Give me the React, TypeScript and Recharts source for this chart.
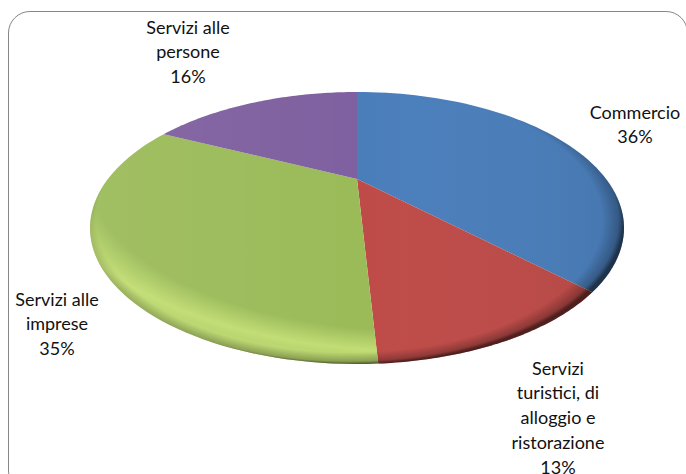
import React from 'react';
import { PieChart, Pie } from 'recharts';

const categories = ['Commercio', 'Servizi turistici, di alloggio e ristorazione', 'Servizi alle imprese', 'Servizi alle persone'];
const shares = [36, 13, 35, 16];
const labelLines = [['Commercio'], ['Servizi', 'turistici, di', 'alloggio e', 'ristorazione'], ['Servizi alle', 'imprese'], ['Servizi alle', 'persone']];
const colors = ['#4A7EBB', '#BE4B48', '#9BBB59', '#7F60A0'];
const data = categories.map((name, i) => ({ name, value: shares[i], fill: colors[i] }));

const W = 686, H = 474, CX = 357, CY = 228, RX = 267, RY = 136;
const TILT = 0.36, WARP = 7.5;
const labelCentres = [[635, 114], [558, 370], [57, 301], [188, 29]];
const LINE = 24.8;

function rim(deg: number): [number, number] {
  const t = ((deg + WARP * Math.sin((deg * Math.PI) / 180)) * Math.PI) / 180;
  const x = Math.sin(t), y = Math.cos(t);
  const w = 1 + TILT * y;
  const sx = (x * Math.sqrt(1 - TILT * TILT)) / w;
  const sy = (y + TILT) / w;
  return [sx, sy];
}

function Slice(props: any) {
  const { cx, cy, outerRadius, startAngle, endAngle, fill, index } = props;
  const ry = (outerRadius * RY) / RX;
  const a = 90 - startAngle, b = 90 - endAngle;
  const n = 64;
  let d = `M${cx},${cy - TILT * ry}`;
  for (let i = 0; i <= n; i++) {
    const [sx, sy] = rim(a + ((b - a) * i) / n);
    d += `L${(cx + sx * outerRadius).toFixed(2)},${(cy - sy * ry).toFixed(2)}`;
  }
  d += 'Z';
  return (
    <g>
      <path d={d} fill={fill} />
      <path d={d} fill="url(#sheen)" />
      {index === 2 && <path d={d} fill="url(#glow)" />}
      <path d={d} fill="url(#edge)" />
    </g>
  );
}

function SliceLabel(props: any) {
  const i = props.index;
  const [x, y] = labelCentres[i];
  const rows = [...labelLines[i], `${shares[i]}%`];
  return (
    <text x={x} y={y} textAnchor="middle" fontFamily="Lato, sans-serif" fontSize={18} fill="#111">
      {rows.map((r, k) => (
        <tspan key={k} x={x} y={y + k * LINE} dominantBaseline="middle">{r}</tspan>
      ))}
    </text>
  );
}

export default function App() {
  return (
    <div style={{ position: 'absolute', left: 0, top: 0, width: W, height: H, background: '#fff', overflow: 'hidden' }}>
      <div style={{ position: 'absolute', left: 8, top: 11, width: 678, height: 480, border: '1.5px solid #868686', borderRadius: 22 }} />
      <div style={{ position: 'absolute', left: 0, top: 0 }}>
        <PieChart width={W} height={H} margin={{ top: 0, right: 0, bottom: 0, left: 0 }}>
          <defs>
            <radialGradient id="edge" gradientUnits="userSpaceOnUse" cx="0" cy="0" r="1" gradientTransform={`translate(${CX - 8} ${CY - 8}) scale(${RX + 8} ${RY + 8})`}>
              <stop offset="0.92" stopColor="#000" stopOpacity="0" />
              <stop offset="0.98" stopColor="#000" stopOpacity="0.25" />
              <stop offset="1" stopColor="#000" stopOpacity="0.58" />
            </radialGradient>
            <radialGradient id="glow" gradientUnits="userSpaceOnUse" cx="0" cy="0" r="1" gradientTransform={`translate(${CX + 60} ${CY - 60}) scale(385 189)`}>
              <stop offset="0.86" stopColor="#E8FF90" stopOpacity="0" />
              <stop offset="0.97" stopColor="#E8FF90" stopOpacity="0.5" />
              <stop offset="1.0" stopColor="#E8FF90" stopOpacity="0.4" />
            </radialGradient>
            <linearGradient id="sheen" gradientUnits="userSpaceOnUse" x1={CX - RX} y1={CY} x2={CX + RX} y2={CY}>
              <stop offset="0" stopColor="#fff" stopOpacity="0.06" />
              <stop offset="0.5" stopColor="#fff" stopOpacity="0" />
              <stop offset="1" stopColor="#000" stopOpacity="0.06" />
            </linearGradient>
          </defs>
          <Pie
            data={data}
            dataKey="value"
            nameKey="name"
            cx={CX}
            cy={CY}
            innerRadius={0}
            outerRadius={RX}
            startAngle={90}
            endAngle={-270}
            stroke="none"
            isAnimationActive={false}
            shape={Slice}
            labelLine={false}
            label={SliceLabel}
          />
        </PieChart>
      </div>
    </div>
  );
}
